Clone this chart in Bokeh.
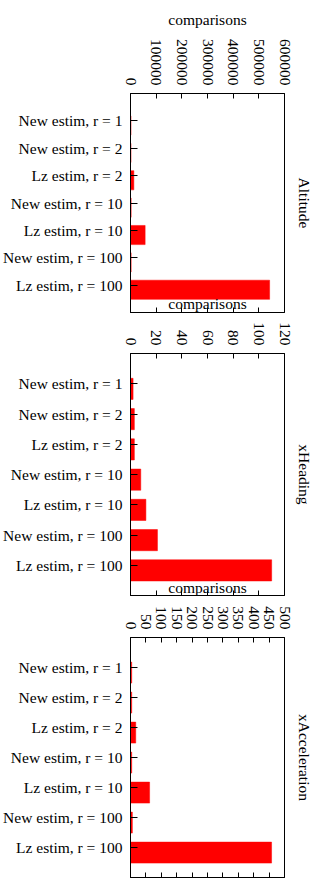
import math
import numpy as np
from bokeh.plotting import figure
from bokeh.models import (Range1d, FixedTicker, LinearAxis, BasicTickFormatter,
                          CustomLabelingPolicy)
from bokeh.layouts import column
from bokeh.embed import file_html
from bokeh.resources import INLINE

categories = ["New estim, r = 1", "New estim, r = 2", "Lz estim, r = 2",
              "New estim, r = 10", "Lz estim, r = 10", "New estim, r = 100",
              "Lz estim, r = 100"]

altitude = [2000, 2000, 13000, 2500, 57000, 2500, 542000]
xheading = [2, 3, 3, 8, 12, 21, 110]
xacceleration = [4, 4, 17, 4, 62, 6, 458]

alt_ticks = [0, 100000, 200000, 300000, 400000, 500000, 600000]
head_ticks = [0, 20, 40, 60, 80, 100, 120]
acc_ticks = [0, 50, 100, 150, 200, 250, 300, 350, 400, 450, 500]

panel_names = ["Altitude", "xHeading", "xAcceleration"]
x_label = "comparisons"

FONT = "Liberation Serif"
FS = "15.5px"

NO_LABELS = CustomLabelingPolicy(code="""
const all = [...indices]
for (const i of all) indices.unset(i)
return indices
""")


def make_panel(values, ticks, name, height, top_border, bottom_border, margin_top,
               title_standoff):
    n = len(categories)
    p = figure(width=317, height=height, output_backend="svg", toolbar_location=None,
               x_axis_location="above",
               x_range=Range1d(ticks[0], ticks[-1]),
               y_range=Range1d(n, -1),
               min_border_left=130, min_border_right=33,
               min_border_top=top_border, min_border_bottom=bottom_border,
               margin=(margin_top, 0, 0, 0))
    p.border_fill_color = None
    p.background_fill_color = None
    p.outline_line_color = "black"
    p.outline_line_width = 1
    p.grid.visible = False

    p.title.text = x_label
    p.title.align = "center"
    p.title.text_font = FONT
    p.title.text_font_size = FS
    p.title.text_font_style = "normal"
    p.title.text_color = "black"
    p.title.standoff = title_standoff

    ypos = np.arange(n) + 0.17
    p.hbar(y=ypos, left=0, right=values, height=0.7, fill_color="red",
           line_color="red", line_width=0.5)

    xa = p.xaxis[0]
    xa.ticker = FixedTicker(ticks=ticks)
    xa.formatter = BasicTickFormatter(use_scientific=False)
    xa.major_label_orientation = -math.pi / 2
    xa.major_tick_in = 5
    xa.major_tick_out = 0
    xa.minor_tick_line_color = None
    xa.major_label_standoff = 8
    xa.major_label_text_font = FONT
    xa.major_label_text_font_size = FS
    xa.major_label_text_color = "black"
    xa.axis_line_color = "black"
    xa.major_tick_line_color = "black"

    bot = LinearAxis(ticker=FixedTicker(ticks=ticks), major_tick_in=5, major_tick_out=0,
                     minor_tick_line_color=None, major_label_policy=NO_LABELS,
                     major_label_text_font=FONT, major_label_text_font_size="0px",
                     major_label_standoff=0, axis_line_color="black")
    p.add_layout(bot, "below")

    ya = p.yaxis[0]
    ya.ticker = FixedTicker(ticks=list(range(n)))
    ya.major_label_overrides = {i: c for i, c in enumerate(categories)}
    ya.major_tick_in = 7
    ya.major_tick_out = 0
    ya.minor_tick_line_color = None
    ya.major_label_standoff = 8
    ya.major_label_text_font = FONT
    ya.major_label_text_font_size = FS
    ya.major_label_text_color = "black"
    ya.axis_line_color = "black"

    ra = LinearAxis(ticker=FixedTicker(ticks=[]), axis_label=name,
                    axis_line_color=None, major_tick_line_color=None,
                    minor_tick_line_color=None, axis_label_standoff=11,
                    axis_label_text_font=FONT, axis_label_text_font_size=FS,
                    axis_label_text_font_style="normal", axis_label_text_color="black")
    p.add_layout(ra, "right")
    return p


p1 = make_panel(altitude, alt_ticks, panel_names[0], 314, 92, 2, 0, 16)
p2 = make_panel(xheading, head_ticks, panel_names[1], 312, 68, 2, -29, 15)
p3 = make_panel(xacceleration, acc_ticks, panel_names[2], 309, 68, 1, -28, 15)

layout = column(p1, p2, p3, spacing=0)
open("out.html", "w").write(file_html(layout, INLINE))
